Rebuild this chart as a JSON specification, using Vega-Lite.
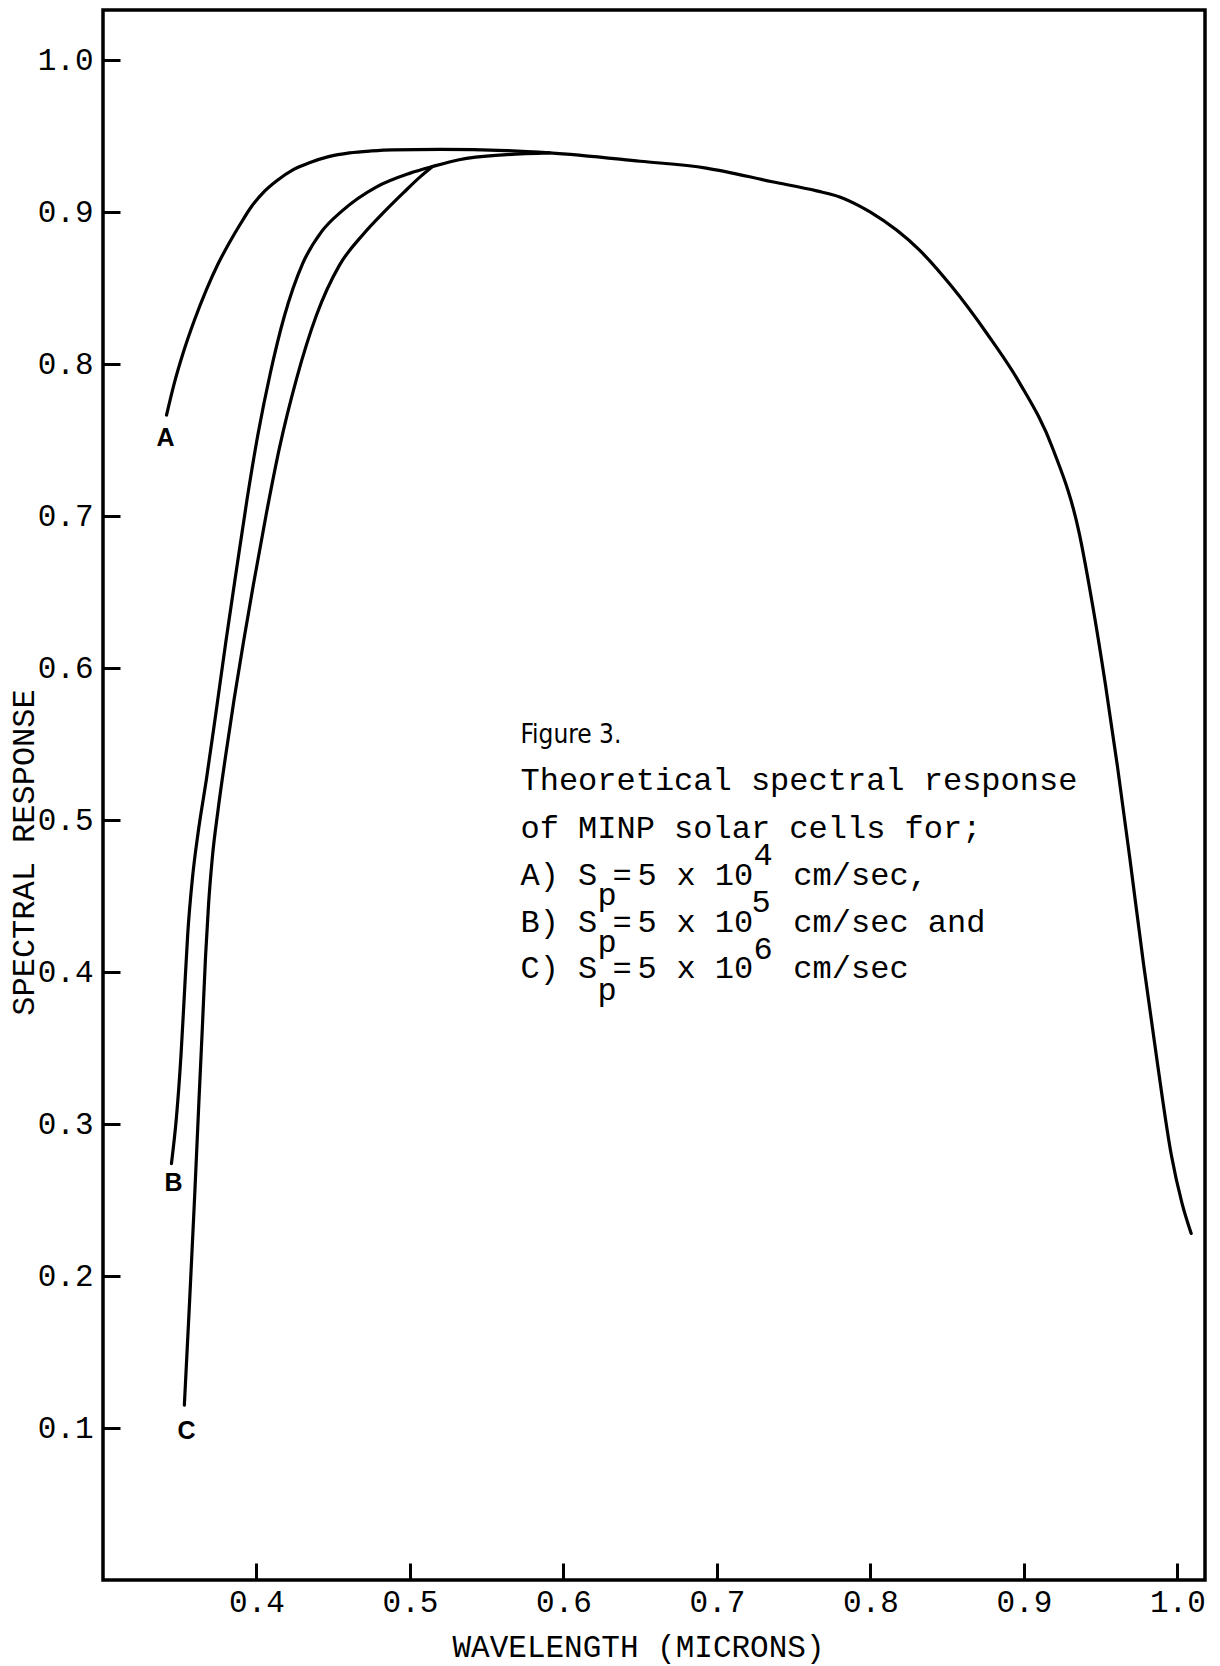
{
  "$schema": "https://vega.github.io/schema/vega-lite/v6.json",
  "width": 1102,
  "height": 1570,
  "autosize": {"type": "none"},
  "padding": {"left": 103, "top": 10, "right": 15, "bottom": 86},
  "background": "white",
  "config": {
    "view": {"stroke": "black", "strokeWidth": 3.5},
    "font": "Liberation Mono"
  },
  "datasets": {
    "curves": [
      {"curve": "A", "wavelength": 0.3414, "response": 0.7665},
      {"curve": "A", "wavelength": 0.3466, "response": 0.788},
      {"curve": "A", "wavelength": 0.3518, "response": 0.806},
      {"curve": "A", "wavelength": 0.3596, "response": 0.829},
      {"curve": "A", "wavelength": 0.3674, "response": 0.849},
      {"curve": "A", "wavelength": 0.375, "response": 0.866},
      {"curve": "A", "wavelength": 0.3824, "response": 0.88},
      {"curve": "A", "wavelength": 0.39, "response": 0.893},
      {"curve": "A", "wavelength": 0.397, "response": 0.904},
      {"curve": "A", "wavelength": 0.405, "response": 0.9135},
      {"curve": "A", "wavelength": 0.413, "response": 0.9205},
      {"curve": "A", "wavelength": 0.424, "response": 0.928},
      {"curve": "A", "wavelength": 0.4345, "response": 0.9325},
      {"curve": "A", "wavelength": 0.447, "response": 0.9365},
      {"curve": "A", "wavelength": 0.4606, "response": 0.939},
      {"curve": "A", "wavelength": 0.475, "response": 0.9403},
      {"curve": "A", "wavelength": 0.4886, "response": 0.941},
      {"curve": "A", "wavelength": 0.5199, "response": 0.9413},
      {"curve": "A", "wavelength": 0.5629, "response": 0.9405},
      {"curve": "A", "wavelength": 0.591, "response": 0.939},
      {"curve": "A", "wavelength": 0.65, "response": 0.9335},
      {"curve": "A", "wavelength": 0.693, "response": 0.929},
      {"curve": "A", "wavelength": 0.736, "response": 0.92},
      {"curve": "A", "wavelength": 0.765, "response": 0.914},
      {"curve": "A", "wavelength": 0.78, "response": 0.91},
      {"curve": "A", "wavelength": 0.793, "response": 0.904},
      {"curve": "A", "wavelength": 0.8, "response": 0.9},
      {"curve": "A", "wavelength": 0.832, "response": 0.875},
      {"curve": "A", "wavelength": 0.853, "response": 0.851},
      {"curve": "A", "wavelength": 0.876, "response": 0.82},
      {"curve": "A", "wavelength": 0.897, "response": 0.788},
      {"curve": "A", "wavelength": 0.919, "response": 0.744},
      {"curve": "A", "wavelength": 0.936, "response": 0.689},
      {"curve": "A", "wavelength": 0.945, "response": 0.64},
      {"curve": "A", "wavelength": 0.953, "response": 0.59},
      {"curve": "A", "wavelength": 0.961, "response": 0.535},
      {"curve": "A", "wavelength": 0.969, "response": 0.475},
      {"curve": "A", "wavelength": 0.978, "response": 0.405},
      {"curve": "A", "wavelength": 0.987, "response": 0.34},
      {"curve": "A", "wavelength": 0.996, "response": 0.28},
      {"curve": "A", "wavelength": 1.003, "response": 0.248},
      {"curve": "A", "wavelength": 1.009, "response": 0.228},

      {"curve": "B", "wavelength": 0.3446, "response": 0.274},
      {"curve": "B", "wavelength": 0.3479, "response": 0.305},
      {"curve": "B", "wavelength": 0.3508, "response": 0.345},
      {"curve": "B", "wavelength": 0.353, "response": 0.385},
      {"curve": "B", "wavelength": 0.3552, "response": 0.425},
      {"curve": "B", "wavelength": 0.3583, "response": 0.462},
      {"curve": "B", "wavelength": 0.362, "response": 0.492},
      {"curve": "B", "wavelength": 0.3674, "response": 0.527},
      {"curve": "B", "wavelength": 0.3735, "response": 0.57},
      {"curve": "B", "wavelength": 0.38, "response": 0.617},
      {"curve": "B", "wavelength": 0.387, "response": 0.665},
      {"curve": "B", "wavelength": 0.394, "response": 0.712},
      {"curve": "B", "wavelength": 0.401, "response": 0.754},
      {"curve": "B", "wavelength": 0.409, "response": 0.794},
      {"curve": "B", "wavelength": 0.418, "response": 0.831},
      {"curve": "B", "wavelength": 0.43, "response": 0.866},
      {"curve": "B", "wavelength": 0.4423, "response": 0.887},
      {"curve": "B", "wavelength": 0.456, "response": 0.901},
      {"curve": "B", "wavelength": 0.478, "response": 0.9165},
      {"curve": "B", "wavelength": 0.4997, "response": 0.9255},
      {"curve": "B", "wavelength": 0.5147, "response": 0.93},
      {"curve": "B", "wavelength": 0.532, "response": 0.9345},
      {"curve": "B", "wavelength": 0.5629, "response": 0.9378},
      {"curve": "B", "wavelength": 0.591, "response": 0.939},

      {"curve": "C", "wavelength": 0.353, "response": 0.115},
      {"curve": "C", "wavelength": 0.3565, "response": 0.185},
      {"curve": "C", "wavelength": 0.3596, "response": 0.25},
      {"curve": "C", "wavelength": 0.3625, "response": 0.315},
      {"curve": "C", "wavelength": 0.3648, "response": 0.365},
      {"curve": "C", "wavelength": 0.3668, "response": 0.41},
      {"curve": "C", "wavelength": 0.3688, "response": 0.445},
      {"curve": "C", "wavelength": 0.3712, "response": 0.475},
      {"curve": "C", "wavelength": 0.375, "response": 0.507},
      {"curve": "C", "wavelength": 0.38, "response": 0.543},
      {"curve": "C", "wavelength": 0.3855, "response": 0.58},
      {"curve": "C", "wavelength": 0.3915, "response": 0.617},
      {"curve": "C", "wavelength": 0.398, "response": 0.655},
      {"curve": "C", "wavelength": 0.4065, "response": 0.702},
      {"curve": "C", "wavelength": 0.415, "response": 0.745},
      {"curve": "C", "wavelength": 0.426, "response": 0.79},
      {"curve": "C", "wavelength": 0.439, "response": 0.832},
      {"curve": "C", "wavelength": 0.454, "response": 0.865},
      {"curve": "C", "wavelength": 0.47, "response": 0.886},
      {"curve": "C", "wavelength": 0.483, "response": 0.9},
      {"curve": "C", "wavelength": 0.496, "response": 0.913},
      {"curve": "C", "wavelength": 0.507, "response": 0.9235},
      {"curve": "C", "wavelength": 0.5147, "response": 0.93}
    ],
    "tags": [
      {"curve": "A", "wavelength": 0.3407, "response": 0.7516},
      {"curve": "B", "wavelength": 0.3459, "response": 0.2611},
      {"curve": "C", "wavelength": 0.3544, "response": 0.098}
    ],
    "caption": [
      {"style": "sans", "text": "Figure 3.", "wavelength": 0.572, "response": 0.556},
      {"style": "mono", "text": "Theoretical spectral response", "wavelength": 0.572, "response": 0.5265},
      {"style": "mono", "text": "of MINP solar cells for;", "wavelength": 0.572, "response": 0.4949},

      {"style": "mono", "text": "A) S", "wavelength": 0.572, "response": 0.4639},
      {"style": "mono", "text": "p", "wavelength": 0.6222, "response": 0.4507},
      {"style": "mono", "text": "=", "wavelength": 0.6319, "response": 0.4639},
      {"style": "mono", "text": "5", "wavelength": 0.6482, "response": 0.4639},
      {"style": "mono", "text": "x 10", "wavelength": 0.6736, "response": 0.4639},
      {"style": "mono", "text": "4", "wavelength": 0.7238, "response": 0.477},
      {"style": "mono", "text": "cm/sec,", "wavelength": 0.7498, "response": 0.4639},

      {"style": "mono", "text": "B) S", "wavelength": 0.572, "response": 0.433},
      {"style": "mono", "text": "p", "wavelength": 0.6222, "response": 0.4198},
      {"style": "mono", "text": "=", "wavelength": 0.6319, "response": 0.433},
      {"style": "mono", "text": "5", "wavelength": 0.6482, "response": 0.433},
      {"style": "mono", "text": "x 10", "wavelength": 0.6736, "response": 0.433},
      {"style": "mono", "text": "5", "wavelength": 0.7225, "response": 0.446},
      {"style": "mono", "text": "cm/sec and", "wavelength": 0.7498, "response": 0.433},

      {"style": "mono", "text": "C) S", "wavelength": 0.572, "response": 0.4027},
      {"style": "mono", "text": "p", "wavelength": 0.6222, "response": 0.3882},
      {"style": "mono", "text": "=", "wavelength": 0.6319, "response": 0.4027},
      {"style": "mono", "text": "5", "wavelength": 0.6482, "response": 0.4027},
      {"style": "mono", "text": "x 10", "wavelength": 0.6736, "response": 0.4027},
      {"style": "mono", "text": "6", "wavelength": 0.7238, "response": 0.4155},
      {"style": "mono", "text": "cm/sec", "wavelength": 0.7498, "response": 0.4027}
    ]
  },
  "encoding": {
    "x": {
      "field": "wavelength",
      "type": "quantitative",
      "scale": {"domain": [0.3, 1.018], "nice": false, "zero": false},
      "axis": {
        "title": "WAVELENGTH (MICRONS)",
        "values": [0.4, 0.5, 0.6, 0.7, 0.8, 0.9, 1.0],
        "format": ".1f",
        "domain": false,
        "grid": false,
        "tickSize": -17,
        "tickWidth": 3,
        "tickColor": "black",
        "labelPadding": 24,
        "labelFont": "Liberation Mono",
        "labelFontSize": 31,
        "labelColor": "black",
        "labelFlush": false,
        "labelOverlap": false,
        "titleFont": "Liberation Mono",
        "titleFontSize": 31,
        "titleFontWeight": "normal",
        "titleColor": "black",
        "titleX": 535,
        "titleY": 67,
        "titleAlign": "center",
        "titleBaseline": "middle"
      }
    },
    "y": {
      "field": "response",
      "type": "quantitative",
      "scale": {"domain": [0, 1.033], "nice": false, "zero": false},
      "axis": {
        "title": "SPECTRAL RESPONSE",
        "values": [0.1, 0.2, 0.3, 0.4, 0.5, 0.6, 0.7, 0.8, 0.9, 1.0],
        "format": ".1f",
        "domain": false,
        "grid": false,
        "tickSize": -17,
        "tickWidth": 3,
        "tickColor": "black",
        "labelPadding": 27,
        "labelFont": "Liberation Mono",
        "labelFontSize": 31,
        "labelColor": "black",
        "labelFlush": false,
        "labelOverlap": false,
        "titleFont": "Liberation Mono",
        "titleFontSize": 32,
        "titleFontWeight": "normal",
        "titleColor": "black",
        "titleAngle": -90,
        "titleX": -80,
        "titleY": 842,
        "titleAlign": "center",
        "titleBaseline": "middle"
      }
    }
  },
  "layer": [
    {
      "data": {"name": "curves"},
      "mark": {"type": "line", "interpolate": "monotone", "stroke": "black", "strokeWidth": 3.2, "strokeCap": "round"},
      "encoding": {"detail": {"field": "curve"}}
    },
    {
      "data": {"name": "tags"},
      "mark": {"type": "text", "font": "Liberation Sans", "fontWeight": "bold", "fontSize": 25, "color": "black", "align": "center", "baseline": "middle"},
      "encoding": {"text": {"field": "curve"}}
    },
    {
      "data": {"name": "caption"},
      "transform": [{"filter": "datum.style === 'mono'"}],
      "mark": {"type": "text", "font": "Liberation Mono", "fontSize": 32, "color": "black", "align": "left", "baseline": "middle"},
      "encoding": {"text": {"field": "text"}}
    },
    {
      "data": {"name": "caption"},
      "transform": [{"filter": "datum.style === 'sans'"}],
      "mark": {"type": "text", "font": "Liberation Sans Narrow, DejaVu Sans Condensed, sans-serif", "fontSize": 26, "color": "black", "align": "left", "baseline": "middle"},
      "encoding": {"text": {"field": "text"}}
    }
  ]
}
